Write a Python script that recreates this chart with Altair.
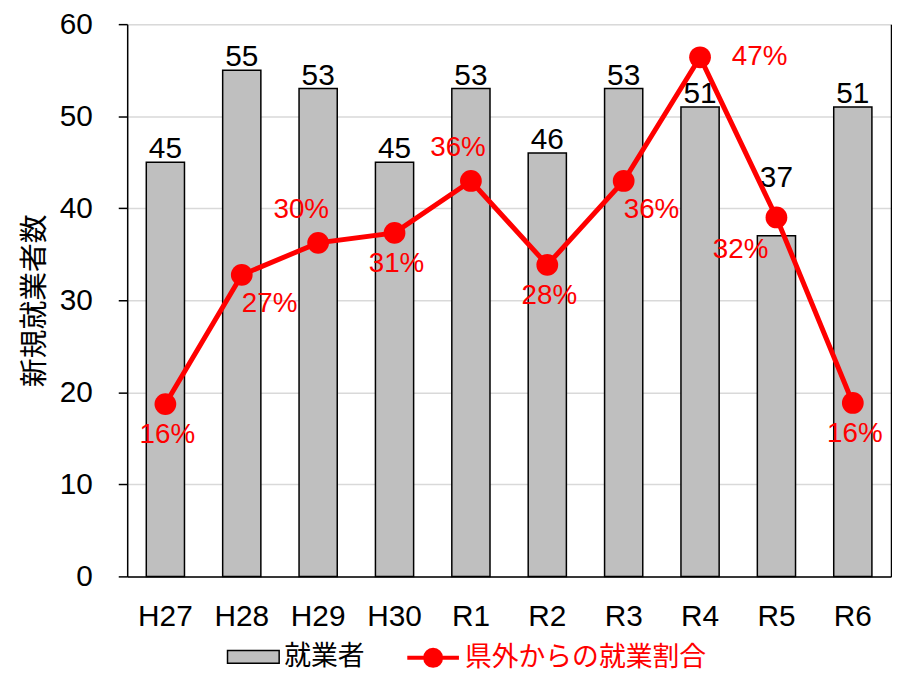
import altair as alt
import pandas as pd

categories = ["H27", "H28", "H29", "H30", "R1", "R2", "R3", "R4", "R5", "R6"]
workers = [45, 55, 53, 45, 53, 46, 53, 51, 37, 51]
outside_pct = [15.6, 27.3, 30.2, 31.1, 35.8, 28.2, 35.8, 47.0, 32.5, 15.7]
pct_labels = ["16%", "27%", "30%", "31%", "36%", "28%", "36%", "47%", "32%", "16%"]

bar_name = "就業者"
line_name = "県外からの就業割合"

df = pd.DataFrame({
    "cat": categories,
    "workers": workers,
    "pct": outside_pct,
    "pct_label": pct_labels,
    "s_bar": [bar_name] * len(categories),
    "s_line": [line_name] * len(categories),
})

FONT = "Liberation Sans, Arial, Noto Sans CJK JP"
JP = "Noto Sans CJK JP"
RED = "#ff0000"
NUM = 30

x_enc = alt.X(
    "cat:N", sort=categories,
    scale=alt.Scale(paddingInner=0.5, paddingOuter=0.25),
    axis=alt.Axis(title=None, labelAngle=0, labelFont=FONT, labelFontSize=NUM,
                  labelColor="black", ticks=False, domainColor="black",
                  domainWidth=1.5, labelPadding=25, grid=False),
)

y_left = alt.Y(
    "workers:Q",
    scale=alt.Scale(domain=[0, 60], nice=False),
    axis=alt.Axis(title="新規就業者数", titleFont=JP, titleFontSize=29,
                  titleFontWeight="normal", titleColor="black", titlePadding=10,
                  values=[0, 10, 20, 30, 40, 50, 60], labelFont=FONT,
                  labelFontSize=NUM, labelColor="black", labelPadding=26,
                  tickSize=9, tickColor="black", tickWidth=1.5,
                  domainColor="black", domainWidth=1.5,
                  grid=True, gridColor="#d9d9d9", gridWidth=1.5),
)

y_right = alt.Y(
    "pct:Q",
    scale=alt.Scale(domain=[0, 50], nice=False),
    axis=alt.Axis(orient="right", title=None, labels=False, ticks=False,
                  grid=False, domainColor="black", domainWidth=1.5,
                  values=[0, 10, 20, 30, 40, 50]),
)

base = alt.Chart(df)

bars = base.mark_bar(stroke="black", strokeWidth=1.5).encode(
    x=x_enc, y=y_left,
    fill=alt.Fill("s_bar:N", scale=alt.Scale(domain=[bar_name], range=["#bfbfbf"]),
                  legend=alt.Legend(title=None, orient="none", legendX=100, legendY=610,
                                    symbolType="M-1,-0.25H1V0.25H-1Z", symbolSize=2704,
                                    symbolStrokeColor="black", symbolStrokeWidth=1.5,
                                    labelFont=JP, labelFontSize=27, labelColor="black",
                                    labelOffset=4, labelLimit=0, padding=0)),
)

bar_label_groups = [
    ([c for c in categories if c != "R5"], -4),
    (["R5"], -49),
]
bar_texts = []
for cats, dy in bar_label_groups:
    bar_texts.append(
        base.mark_text(baseline="alphabetic", dy=dy, fontSize=NUM, font=FONT, color="black")
        .encode(x=x_enc, y=y_left, text="workers:Q")
        .transform_filter(alt.FieldOneOfPredicate(field="cat", oneOf=cats))
    )

left = alt.layer(bars, *bar_texts)

line = base.mark_line(color=RED, strokeWidth=5).encode(x=x_enc, y=y_right)

points = base.mark_circle(size=480, opacity=1).encode(
    x=x_enc, y=y_right,
    color=alt.Color("s_line:N", scale=alt.Scale(domain=[line_name], range=[RED]),
                    legend=alt.Legend(title=None, orient="none", legendX=280, legendY=610,
                                      symbolType="M-1,0H1M0.31,0A0.31,0.31,0,1,1,-0.31,0A0.31,0.31,0,1,1,0.31,0Z",
                                      symbolSize=2704, symbolStrokeColor=RED,
                                      symbolFillColor=RED, symbolStrokeWidth=4,
                                      labelFont=JP, labelFontSize=27, labelColor=RED,
                                      labelOffset=4, labelLimit=0, padding=0)),
)

groups = [
    (["H27", "H30", "R2", "R6"], 2, 31),
    (["H28", "R3"], 28, 29),
    (["H29"], -17, -33),
    (["R1"], -13, -33),
    (["R4"], 60, 0),
    (["R5"], -36, 33),
]

pct_texts = []
for cats, dx, dy in groups:
    pct_texts.append(
        base.mark_text(fontSize=28, font=FONT, color=RED, dx=dx, dy=dy,
                       align="center", baseline="middle")
        .encode(x=x_enc, y=y_right, text="pct_label:N")
        .transform_filter(alt.FieldOneOfPredicate(field="cat", oneOf=cats))
    )

right = alt.layer(line, points, *pct_texts)

chart = alt.layer(left, right).resolve_scale(y="independent").properties(
    width=769, height=556,
    autosize=alt.AutoSizeParams(type="none"),
    padding={"left": 120, "top": 14, "right": 1, "bottom": 95},
).configure_view(stroke=None).configure(background="white")

chart.save("out.html", embed_options={"renderer": "svg", "actions": False})
